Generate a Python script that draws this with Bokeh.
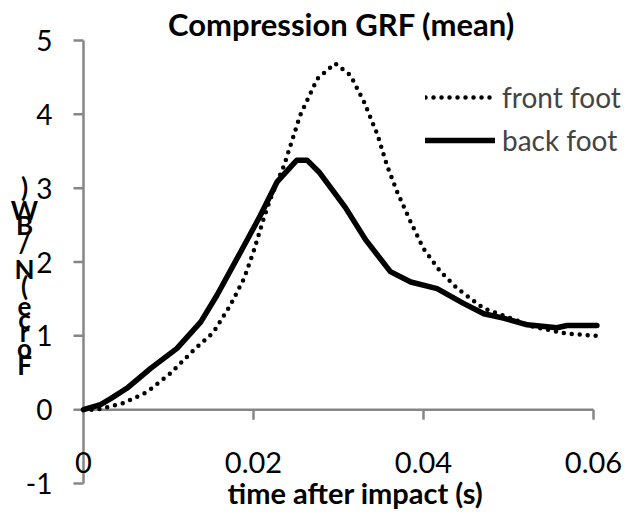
from bokeh.plotting import figure
from bokeh.models import Range1d, Legend, LegendItem
from bokeh.core.properties import value
from bokeh.embed import file_html
from bokeh.resources import INLINE

# ---- data ----
front_t = [0.000, 0.0016, 0.0047, 0.0075, 0.0102, 0.0130, 0.0153, 0.0173, 0.0189, 0.0200,
           0.0212, 0.0220, 0.0236, 0.0255, 0.0275, 0.0296, 0.0314, 0.0330, 0.0346, 0.0357,
           0.0369, 0.0385, 0.0400, 0.0420, 0.0440, 0.0471, 0.0502, 0.0530, 0.0569, 0.0604]
front_f = [0.00, 0.00, 0.09, 0.24, 0.49, 0.81, 1.05, 1.42, 1.78, 2.14,
           2.59, 2.86, 3.31, 3.99, 4.48, 4.69, 4.53, 4.17, 3.72, 3.31,
           2.95, 2.54, 2.18, 1.87, 1.64, 1.37, 1.24, 1.12, 1.03, 1.00]

back_t = [0.000, 0.0020, 0.0032, 0.0051, 0.0079, 0.0110, 0.0138, 0.0157, 0.0185, 0.0208,
          0.0228, 0.0251, 0.0263, 0.0277, 0.0308, 0.0332, 0.0361, 0.0385, 0.0416, 0.0447,
          0.0471, 0.0494, 0.0522, 0.0557, 0.0569, 0.0604]
back_f = [0.00, 0.07, 0.15, 0.29, 0.56, 0.83, 1.19, 1.55, 2.14, 2.63,
          3.09, 3.38, 3.38, 3.22, 2.74, 2.30, 1.87, 1.73, 1.64, 1.44,
          1.30, 1.24, 1.15, 1.11, 1.14, 1.14]

x_ticks = [0, 0.02, 0.04, 0.06]
x_tick_labels = ["0", "0.02", "0.04", "0.06"]
y_ticks = [-1, 0, 1, 2, 3, 4, 5]
y_tick_labels = ["-1", "0", "1", "2", "3", "4", "5"]

title_text = "Compression GRF (mean)"
x_title = "time after impact (s)"
y_title = "Force (N/BW)"
series_names = ["front foot", "back foot"]

AXIS = "#868686"
FONT = "Lato"

# plot area spans the whole canvas; px -> data conversions
W, H = 627, 512
X0_PX, XPX_PER_UNIT = 83, 510 / 0.06      # x = 0 at canvas px 83
Y0_PX, YPX_PER_UNIT = 409.2, 443 / 6.0    # y = 0 at canvas px 409.2 (from top)


def dx(px):
    return px / XPX_PER_UNIT


def dy(px):
    return px / YPX_PER_UNIT


p = figure(frame_width=W, frame_height=H,
           x_range=Range1d(dx(-X0_PX), dx(W - X0_PX)),
           y_range=Range1d(dy(Y0_PX - H), dy(Y0_PX)),
           x_axis_location=None, y_axis_location=None,
           min_border=0, output_backend="svg", toolbar_location=None)
p.grid.visible = False
p.outline_line_color = None
p.background_fill_color = "white"
p.border_fill_color = "white"

# y axis
p.segment(x0=[0], y0=[y_ticks[0]], x1=[0], y1=[y_ticks[-1]], line_color=AXIS, line_width=2.5)
p.segment(x0=[0] * len(y_ticks), y0=y_ticks, x1=[-dx(10)] * len(y_ticks), y1=y_ticks,
          line_color=AXIS, line_width=2.5)
p.text(x=[-dx(31)] * len(y_ticks), y=y_ticks, text=y_tick_labels, text_align="right",
       text_baseline="middle", text_font=value(FONT), text_font_size="28px", text_color="black")

# x axis drawn at y = 0
p.segment(x0=[x_ticks[0]], y0=[0], x1=[x_ticks[-1]], y1=[0], line_color=AXIS, line_width=2.5)
p.segment(x0=x_ticks[1:], y0=[0] * (len(x_ticks) - 1), x1=x_ticks[1:], y1=[-dy(10)] * (len(x_ticks) - 1),
          line_color=AXIS, line_width=2.5)
p.text(x=x_ticks, y=[-dy(53)] * len(x_ticks), text=x_tick_labels, text_align="center",
       text_baseline="middle", text_font=value(FONT), text_font_size="29px", text_color="black")

# series
r_front = p.line(front_t, front_f, line_color="black", line_width=4.5, line_dash="0 8", line_cap="round")
r_back = p.line(back_t, back_f, line_color="black", line_width=5.5, line_cap="round", line_join="round")

legend = Legend(items=[LegendItem(label=series_names[0], renderers=[r_front]),
                       LegendItem(label=series_names[1], renderers=[r_back])],
                location=(425, 352), glyph_width=70, glyph_height=40, label_height=40,
                spacing=3, padding=0, margin=0, border_line_color=None, background_fill_alpha=0,
                label_text_font=FONT, label_text_font_size="28px", label_standoff=7)
p.add_layout(legend)

# title
p.text(x=[dx(341 - X0_PX)], y=[dy(Y0_PX - 23)], text=[title_text], text_align="center",
       text_baseline="middle", text_font=value(FONT), text_font_style="bold",
       text_font_size="31px", text_color="black")
# x axis title
p.text(x=[dx(355 - X0_PX)], y=[dy(Y0_PX - 492)], text=[x_title], text_align="center",
       text_baseline="middle", text_font=value(FONT), text_font_style="bold",
       text_font_size="29px", text_color="black")
# y axis title, stacked upright letters as in the reference
letters = [c for c in reversed(y_title) if c != " "]
letter_px = [186, 209, 224, 242, 268, 285, 306, 318, 331, 347, 364]
p.text(x=[dx(24 - X0_PX)] * len(letters), y=[dy(Y0_PX - v) for v in letter_px], text=letters,
       text_align="center", text_baseline="middle", text_font=value(FONT),
       text_font_style="bold", text_font_size="26px", text_color="black")

open("out.html", "w").write(file_html(p, INLINE))
